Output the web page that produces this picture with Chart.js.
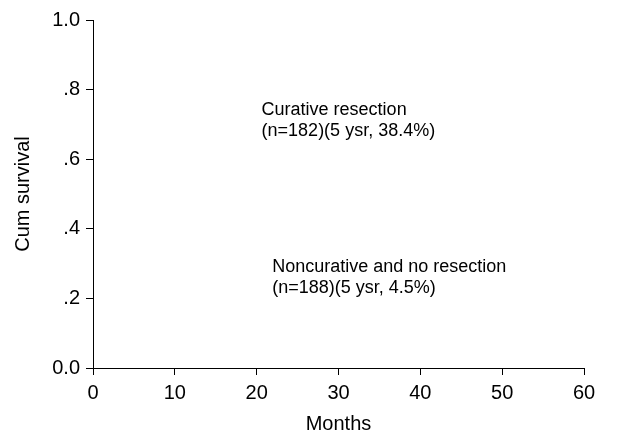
<!DOCTYPE html>
<html lang="en">
<head>
  <meta charset="UTF-8">
  <title>Cum survival</title>
  <script src="https://cdn.jsdelivr.net/npm/chart.js"></script>
  <style>
    body { margin: 0; background: #fff; }
  </style>
</head>
<body>
  <canvas id="survivalChart" width="623" height="434"></canvas>
  <script>
    // axis ranges / ticks
    const monthTicks = [0, 10, 20, 30, 40, 50, 60];
    const survivalTicks = [0, 0.2, 0.4, 0.6, 0.8, 1.0];

    // group labels, anchored in data units (months, survival)
    const groupLabels = [
      ['Curative resection', '(n=182)(5 ysr, 38.4%)'],
      ['Noncurative and no resection', '(n=188)(5 ysr, 4.5%)']
    ];
    const labelMonths = [20.6, 21.9];
    const labelSurvival = [0.741, 0.291];

    const fontFamily = '"Liberation Sans", Arial, sans-serif';

    const groupLabelPlugin = {
      id: 'groupLabels',
      afterDraw(chart) {
        const { ctx, scales } = chart;
        ctx.save();
        ctx.fillStyle = '#000';
        ctx.font = '18px ' + fontFamily;
        ctx.textAlign = 'left';
        ctx.textBaseline = 'middle';
        groupLabels.forEach((lines, i) => {
          const px = scales.x.getPixelForValue(labelMonths[i]);
          const py = scales.y.getPixelForValue(labelSurvival[i]);
          lines.forEach((line, j) => ctx.fillText(line, px, py + j * 21));
        });
        ctx.restore();
      }
    };

    new Chart(document.getElementById('survivalChart'), {
      type: 'scatter',
      data: { datasets: [{ data: [] }] },
      options: {
        responsive: false,
        animation: false,
        layout: { padding: { top: 20, right: 39, left: 0, bottom: 0 } },
        plugins: { legend: { display: false }, tooltip: { enabled: false } },
        scales: {
          x: {
            min: monthTicks[0],
            max: monthTicks[monthTicks.length - 1],
            afterBuildTicks: s => { s.ticks = monthTicks.map(v => ({ value: v })); },
            afterFit: s => { s.height = 66; },
            grid: { display: true, drawOnChartArea: false, drawTicks: true, tickLength: 7, color: '#000' },
            border: { display: true, color: '#000', width: 1 },
            ticks: { color: '#000', font: { family: fontFamily, size: 20 }, padding: 6, maxRotation: 0 },
            title: { display: true, text: 'Months', color: '#000', font: { family: fontFamily, size: 20 }, padding: { top: 0, bottom: -2 } }
          },
          y: {
            min: survivalTicks[0],
            max: survivalTicks[survivalTicks.length - 1],
            afterBuildTicks: s => { s.ticks = survivalTicks.map(v => ({ value: v })); },
            afterFit: s => { s.width = 93; },
            grid: { display: true, drawOnChartArea: false, drawTicks: true, tickLength: 7, color: '#000' },
            border: { display: true, color: '#000', width: 1 },
            ticks: {
              color: '#000',
              font: { family: fontFamily, size: 20 },
              padding: 6,
              callback: v => (v === 0 || v === 1) ? v.toFixed(1) : v.toFixed(1).replace(/^0/, '')
            },
            title: { display: true, text: 'Cum survival', color: '#000', font: { family: fontFamily, size: 20 }, padding: { top: 11, bottom: 0 } }
          }
        }
      },
      plugins: [groupLabelPlugin]
    });
  </script>
</body>
</html>
